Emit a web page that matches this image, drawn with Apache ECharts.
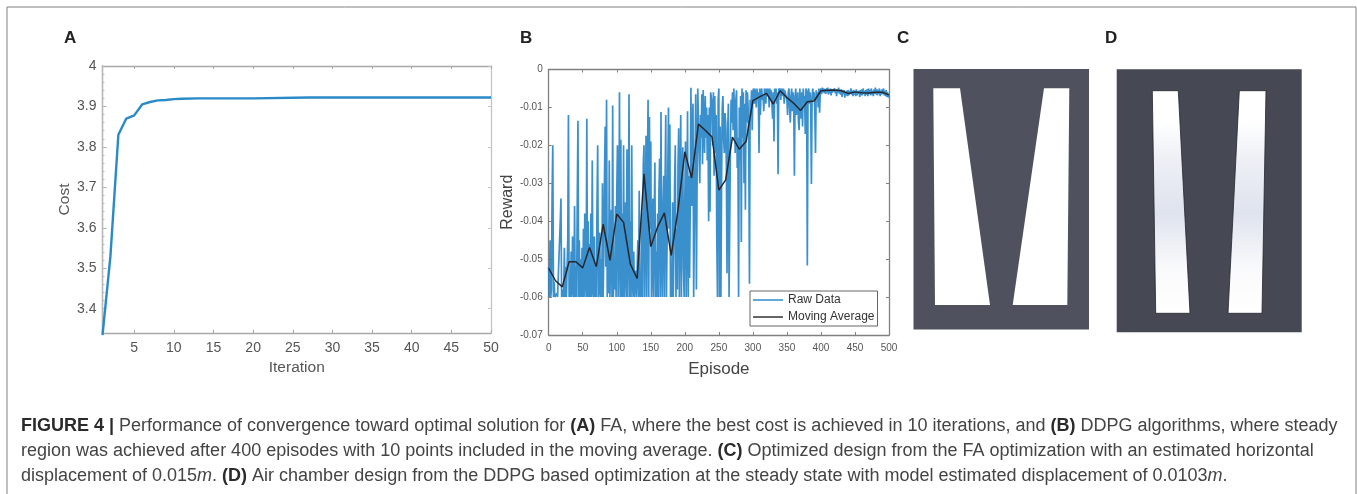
<!DOCTYPE html>
<html><head><meta charset="utf-8">
<style>html,body{margin:0;padding:0;background:#fff}#c{width:1357px;height:494px;filter:blur(0.45px)}</style>
<script src="https://cdn.jsdelivr.net/npm/echarts@6/dist/echarts.min.js"></script>
</head><body><div id="c"></div>
<script>
const iterations=[1,2,3,4,5,6,7,8,9,10,11,13,20,27,35,50];
const costValues=[3.335,3.53,3.83,3.87,3.878,3.905,3.911,3.915,3.916,3.918,3.919,3.92,3.92,3.922,3.922,3.922];
const iterationTicks=[5,10,15,20,25,30,35,40,45,50];
const costTicks=[3.4,3.5,3.6,3.7,3.8,3.9,4];
const costMinorTicks=[3.34,3.36,3.38,3.4,3.42,3.44,3.46,3.48,3.5,3.52,3.54,3.56,3.58,3.6,3.62,3.64,3.66,3.68,3.7,3.72,3.74,3.76,3.78,3.8,3.82,3.84,3.86,3.88,3.9,3.92,3.94,3.96,3.98,4];
// reward x 1000, one value per episode
const rawRewardMilli=[
-52,-60,-45,-60,-58,-33,-20,-60,-56,-60,
-60,-60,-59,-60,-60,-60,-60,-40,-34,-60,
-60,-58,-60,-47,-60,-52,-60,-60,-45,-12,
-60,-55,-60,-48,-60,-44,-58,-60,-36,-60,
-52,-60,-34,-13.5,-60,-45,-60,-50,-60,-47,
-60,-42,-60,-38,-55,-60,-13,-60,-40,-60,
-46,-60,-38,-60,-24,-58,-60,-44,-60,-52,
-60,-35,-20,-60,-58,-43,-60,-50,-60,-30,
-60,-48,-28,-15,-52,-8,-60,-45,-59,-24,
-60,-47,-37,-60,-9.5,-60,-50,-58,-36,-60,
-33,-20,-60,-48,-6,-60,-18.5,-60,-38,-60,
-20,-60,-52,-35,-60,-21,-60,-45,-6.5,-60,
-40,-60,-20,-55,-60,-48,-60,-60,-53,-60,
-60,-45,-60,-32,-60,-55,-60,-38,-60,-25,
-20,-60,-40,-17.5,-60,-28,-8,-60,-12.5,-42,
-19,-60,-52,-34,-60,-40,-24.5,-60,-48,-60,
-38,-60,-32,-23.5,-60,-11.2,-50,-60,-36,-28,
-60,-30,-12,-60,-45,-27,-10,-42,-14.5,-60,
-55,-60,-35,-60,-47,-30,-20,-60,-42,-58,
-26,-15.5,-60,-38,-12,-60,-30,-20.5,-52,-60,
-34,-19,-60,-40,-11,-60,-28,-55,-35,-4.8,
-36,-20,-9,-60,-42,-25,-6.5,-58,-30,-5,
-4.8,-22,-30,-12,-18,-6.5,-25,-5.4,-15,-22,
-7,-18,-10,-24,-12,-40,-10,-37.5,-6,-5.5,
-9,-20,-6,-28,-7,-22,-12,-45,-60,-8,
-5,-60,-15,-60,-30,-10,-7,-18,-22,-11.5,
-14,-25,-53.7,-16,-9,-60,-60,-20,-8,-14,
-6,-16,-5,-12,-22,-8,-5.5,-26,-18,-60,
-10,-24,-7,-45.5,-5,-18,-6,-30,-9,-37,
-5.5,-14,-6,-10,-22,-56.5,-8,-12,-5.5,-16,
-6,-5,-9,-5,-7,-10,-5,-8,-6,-22,
-5,-12,-6,-5,-8,-7,-11,-5,-6,-9,
-5,-7,-5,-6,-10,-5,-8,-5.5,-6,-13,
-6,-19,-5,-7,-5,-9,-6,-27.6,-5,-6,
-5,-8,-5,-6,-7,-5,-9,-5.5,-6,-5,
-8,-12,-6,-5,-10,-14,-7,-5,-11,-6,
-9,-28,-7,-5,-12,-8,-6,-14,-16,-5,
-9,-13,-6,-15,-5,-8,-7,-17,-5,-6,
-51.7,-6,-5,-9,-6,-10,-30.2,-7,-5,-8,
-6,-11,-22,-5.5,-7,-6,-10,-5,-11.4,-6,
-5,-6.5,-4.8,-6,-5,-6.2,-5.2,-6.4,-5,-6,
-4.8,-6.6,-5.4,-6.2,-5,-6.8,-5.2,-6,-5.6,-6.4,
-5,-6.2,-5.4,-7,-5.2,-6,-4.8,-6.4,-5.8,-6.6,
-5.2,-7.2,-5.6,-6.4,-5.4,-7.4,-5.8,-6.8,-5.6,-7,
-5.4,-6.8,-5.8,-6.4,-5,-6.6,-5.6,-7,-5.4,-6.6,
-5.6,-7,-5.2,-6.8,-5.8,-6.4,-5.6,-7.2,-5.4,-6.8,
-5.2,-6.8,-5,-6.4,-5.6,-7,-5.4,-6.6,-5.2,-7,
-5,-6.4,-5.4,-6.8,-5,-6.6,-5.6,-7,-5.2,-6.4,
-4.8,-6.6,-5.2,-6.8,-5.4,-6.4,-5,-7,-5.6,-6.6,
-5.2,-6.4,-5,-6.8,-5.6,-7,-5.4,-7.2,-6,-7.4,
-6.8];
const averageEpisodes=[0,10,20,30,40,50,60,70,80,90,100,110,120,130,140,150,160,170,180,190,200,210,220,230,240,250,260,270,280,290,300,310,320,330,340,350,360,370,380,390,400,410,420,430,440,450,460,470,480,490,500];
const averageReward=[-0.0524,-0.0557,-0.0573,-0.0507,-0.0507,-0.0523,-0.0469,-0.052,-0.0408,-0.0503,-0.0381,-0.0403,-0.0513,-0.0551,-0.0275,-0.0467,-0.0415,-0.0378,-0.049,-0.037,-0.0217,-0.0286,-0.0144,-0.016,-0.0178,-0.0318,-0.0291,-0.0178,-0.021,-0.019,-0.0082,-0.0072,-0.0063,-0.0091,-0.0056,-0.0074,-0.0089,-0.0108,-0.0085,-0.0083,-0.0056,-0.0055,-0.0054,-0.0056,-0.0063,-0.0059,-0.0061,-0.0062,-0.006,-0.006,-0.0067];
const captionLines=[
"{b|FIGURE 4 |} Performance of convergence toward optimal solution for {b|(A)} FA, where the best cost is achieved in 10 iterations, and {b|(B)} DDPG algorithms, where steady",
"region was achieved after 400 episodes with 10 points included in the moving average. {b|(C)} Optimized design from the FA optimization with an estimated horizontal",
"displacement of 0.015{i|m}. {b|(D)} Air chamber design from the DDPG based optimization at the steady state with model estimated displacement of 0.0103{i|m}."];

const FONT='"Liberation Sans",Arial,sans-serif';
const LAB='#555';
const ch=echarts.init(document.getElementById('c'),null,{renderer:'canvas'});
const rawPts=rawRewardMilli.map((v,i)=>[i,v/1000]);
const avgPts=averageEpisodes.map((e,i)=>[e,averageReward[i]]);
const costPts=iterations.map((e,i)=>[e,costValues[i]]);
function plainX(g,min,max,interval,custom,c){return {gridIndex:g,type:'value',position:'top',min,max,interval,splitLine:{show:false},
  axisLine:{show:true,onZero:false,lineStyle:{color:c,width:1.3}},axisTick:{show:true,inside:true,length:3,lineStyle:{color:c},customValues:custom},axisLabel:{show:false}};}
function plainY(g,min,max,interval,custom,c,pos,len){return {gridIndex:g,type:'value',position:pos,min,max,interval,splitLine:{show:false},
  axisLine:{show:true,onZero:false,lineStyle:{color:c,width:1.3}},axisTick:{show:true,inside:true,length:len,lineStyle:{color:c},customValues:custom},axisLabel:{show:false}};}
const pane=(x,y,w,h,c)=>({type:'rect',shape:{x,y,width:w,height:h},style:{fill:c}});
const poly=(pts,fill,stroke)=>({type:'polygon',shape:{points:pts},style:{fill,stroke:stroke||null,lineWidth:stroke?0.8:0}});
const sheen={type:'linear',x:0,y:0,x2:0,y2:1,colorStops:[{offset:0,color:'#ffffff'},{offset:0.14,color:'#ffffff'},{offset:0.3,color:'#eef0f6'},{offset:0.55,color:'#dfe3ee'},{offset:0.8,color:'#fafafc'},{offset:1,color:'#ffffff'}]};
const lab=(t,x,y)=>({type:'text',x,y,style:{text:t,font:'bold 17px '+FONT,fill:'#222',textVerticalAlign:'middle'}});
const cap=(t,y)=>({type:'text',x:21,y,style:{text:t,fill:'#444',fontFamily:FONT,fontSize:18,textVerticalAlign:'middle',
  rich:{b:{fontWeight:'bold',fontSize:18,fontFamily:FONT,fill:'#2a2a2a'},i:{fontStyle:'italic',fontSize:18,fontFamily:FONT,fill:'#444'}}}});
ch.setOption({
 animation:false,backgroundColor:'#fff',
 grid:[{left:102.5,top:66,width:388.5,height:267},{left:548.7,top:69.5,width:340.3,height:265.5}],
 xAxis:[
  {gridIndex:0,type:'value',min:1,max:50,splitLine:{show:false},name:'Iteration',nameLocation:'middle',nameGap:26,nameTextStyle:{fontFamily:FONT,fontSize:15.5,color:LAB},
   axisLine:{onZero:false,lineStyle:{color:'#a8a8a8',width:1.3}},axisTick:{inside:true,length:3,lineStyle:{color:'#a8a8a8'},customValues:iterationTicks},
   axisLabel:{customValues:iterationTicks,fontFamily:FONT,fontSize:14,color:LAB,margin:8,showMinLabel:true,showMaxLabel:true}},
  plainX(0,1,50,undefined,iterationTicks,'#a8a8a8'),
  {gridIndex:1,type:'value',min:0,max:500,interval:50,splitLine:{show:false},name:'Episode',nameLocation:'middle',nameGap:26,nameTextStyle:{fontFamily:FONT,fontSize:17,color:'#444'},
   axisLine:{onZero:false,lineStyle:{color:'#808080',width:1.3}},axisTick:{inside:true,length:3,lineStyle:{color:'#808080'}},
   axisLabel:{fontFamily:FONT,fontSize:10,color:LAB,margin:8}},
  plainX(1,0,500,50,undefined,'#808080')
 ],
 yAxis:[
  {gridIndex:0,type:'value',min:3.34,max:4,splitLine:{show:false},name:'Cost',nameLocation:'middle',nameGap:27,nameTextStyle:{fontFamily:FONT,fontSize:15.5,color:LAB},
   axisLine:{onZero:false,lineStyle:{color:'#a8a8a8',width:1.3}},axisTick:{inside:true,length:4,lineStyle:{color:'#a8a8a8'},customValues:costTicks},
   axisLabel:{customValues:costTicks,fontFamily:FONT,fontSize:14,color:LAB,margin:6,formatter:v=>String(v)}},
  plainY(0,3.34,4,undefined,costMinorTicks,'#b8b8b8','left',2),
  plainY(0,3.34,4,undefined,costTicks,'#c4c4c4','right',3),
  {gridIndex:1,type:'value',min:-0.07,max:0,interval:0.01,splitLine:{show:false},name:'Reward',nameLocation:'middle',nameGap:32,nameTextStyle:{fontFamily:FONT,fontSize:16,color:'#444'},
   axisLine:{onZero:false,lineStyle:{color:'#808080',width:1.3}},axisTick:{inside:true,length:3,lineStyle:{color:'#808080'}},
   axisLabel:{fontFamily:FONT,fontSize:10,color:LAB,margin:6}},
  plainY(1,-0.07,0,0.01,undefined,'#808080','right',3)
 ],
 legend:{show:true,left:750,top:291,width:131,orient:'vertical',padding:[3,3,3,3],itemGap:5,itemWidth:30,itemHeight:13,
  backgroundColor:'#fff',borderColor:'#666',borderWidth:1,borderRadius:0,z:10,
  textStyle:{fontFamily:FONT,fontSize:12,color:'#333'},data:[{name:'Raw Data',icon:'path://M0,6H30V7.5H0Z',itemStyle:{color:'#2b8ccb'}},{name:'Moving Average',icon:'path://M0,6H30V7.5H0Z',itemStyle:{color:'#333'}}]},
 series:[
  {name:'Cost',type:'line',xAxisIndex:0,yAxisIndex:0,data:costPts,showSymbol:false,lineStyle:{color:'#2a8ac8',width:2.4},clip:false},
  {name:'Raw Data',type:'line',xAxisIndex:2,yAxisIndex:3,data:rawPts,showSymbol:false,lineStyle:{color:'#1f80c6',width:1.7,opacity:0.88},itemStyle:{color:'#2b8ccb'}},
  {name:'Moving Average',type:'line',xAxisIndex:2,yAxisIndex:3,data:avgPts,showSymbol:false,lineStyle:{color:'#26262c',width:1.5},itemStyle:{color:'#333'},z:5}
 ],
 graphic:[
  {type:'rect',z:-10,shape:{x:7,y:7,width:1349,height:500},style:{fill:null,stroke:'#808080',lineWidth:1}},
  lab('A',64,38),lab('B',520,38),lab('C',897,38),lab('D',1105,38),
  pane(913.5,69,175.5,260.5,'#4f525e'),
  poly([[933.3,88.3],[960,88.3],[990,305],[935,305]],'#fff'),
  poly([[1044,88.3],[1069.3,88.3],[1067.3,305],[1012.7,305]],'#fff'),
  pane(1116.7,69.3,185,263,'#464853'),
  poly([[1152.3,90.7],[1178.3,90.7],[1190,313.3],[1155.7,313.3]],sheen,'#23252c'),
  poly([[1239.3,90.7],[1266,90.7],[1262,313.3],[1228,313.3]],sheen,'#23252c'),
  cap(captionLines[0],426),cap(captionLines[1],451),cap(captionLines[2],476)
 ]
});
</script></body></html>
